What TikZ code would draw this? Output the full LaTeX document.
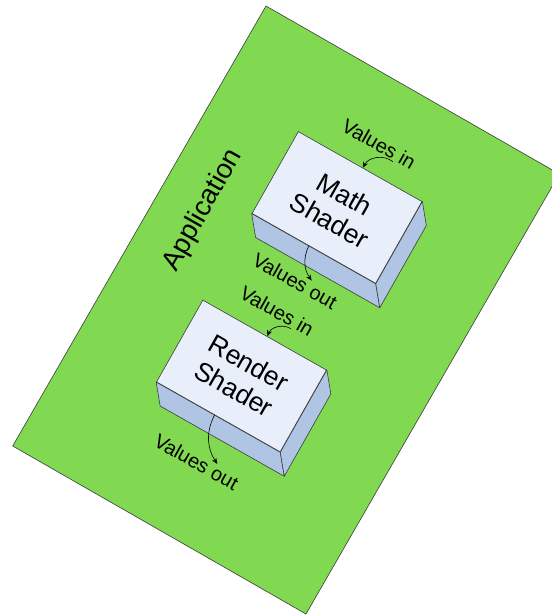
\documentclass[tikz,border=0pt]{standalone}
\usepackage{fontspec}
\setmainfont{Liberation Sans}
\usepackage{tikz}
\usetikzlibrary{shapes,arrows,arrows.meta,positioning,calc}
\definecolor{appgreen}{RGB}{128, 217, 80}
\definecolor{topface}{RGB}{232, 238, 250}
\definecolor{sideface}{RGB}{176, 196, 228}
\definecolor{edgecolor}{RGB}{60, 60, 60}

\begin{document}
\begin{tikzpicture}[x=1pt, y=1pt]
    % Define styles
    \tikzstyle{shader} = [rectangle, rotate=-29.5, minimum width=142pt, minimum height=94pt, inner sep=0pt, align=center, draw=edgecolor, fill=topface, line width=0.6pt, font=\fontsize{26.5}{30}\selectfont]
    \tikzstyle{side} = [draw=edgecolor, fill=sideface, line width=0.6pt, line join=round]
    \tikzstyle{value} = [rotate=-29.5, inner sep=1pt, font=\fontsize{20}{24}\selectfont]
    \tikzstyle{arrow} = [->, >={Stealth[length=6pt, width=5pt]}, black, line width=0.6pt]

    \useasboundingbox (0,0) rectangle (551,-615);

    % Application board
    \coordinate (boardtop) at (266,-6);
    \coordinate (boardleft) at (12.7,-446);
    \coordinate (boardbottom) at (306,-614);
    \coordinate (boardright) at (559.3,-174);
    \draw [draw=edgecolor, fill=appgreen, line width=0.6pt] (boardtop) -- (boardleft) -- (boardbottom) -- (boardright) -- cycle;
    \node [rotate=60.5, font=\fontsize{27.5}{32}\selectfont] (app) at (203,-210) {Application};

    % Shader blocks
    \node [shader] (math) at (337,-207.5) {Math\\Shader};
    \node [shader] (render) at (241.5,-376) {Render\\Shader};
    \foreach \blk in {math, render} {
        \draw [side] (\blk.south west) -- (\blk.south east) -- ++(4,-24) -- ($(\blk.south west)+(4,-24)$) -- cycle;
        \draw [side] (\blk.south east) -- (\blk.north east) -- ++(4,-24) -- ($(\blk.south east)+(4,-24)$) -- cycle;
    }

    % Value labels
    \node [value] (mathin) at (379,-144) {Values in};
    \node [value] (mathout) at (295,-281) {Values out};
    \node [value] (renderin) at (277,-311) {Values in};
    \node [value] (renderout) at (196.5,-462) {Values out};

    % Data flow arrows
    \draw [arrow] ($(mathin.south)!0.5!(mathin.south east)$) to[bend right=50] ($(math.north west)!0.52!(math.north east)$);
    \draw [arrow] ($(math.south west)!0.46!(math.south east)$) to[bend right=30] ($(mathout.north)!0.3!(mathout.north east)$);
    \draw [arrow] ($(renderin.south)!0.5!(renderin.south east)$) to[bend right=50] ($(render.north west)!0.52!(render.north east)$);
    \draw [arrow] ($(render.south west)!0.47!(render.south east)$) to[bend right=30] ($(renderout.north)!0.4!(renderout.north east)$);
\end{tikzpicture}
\end{document}
